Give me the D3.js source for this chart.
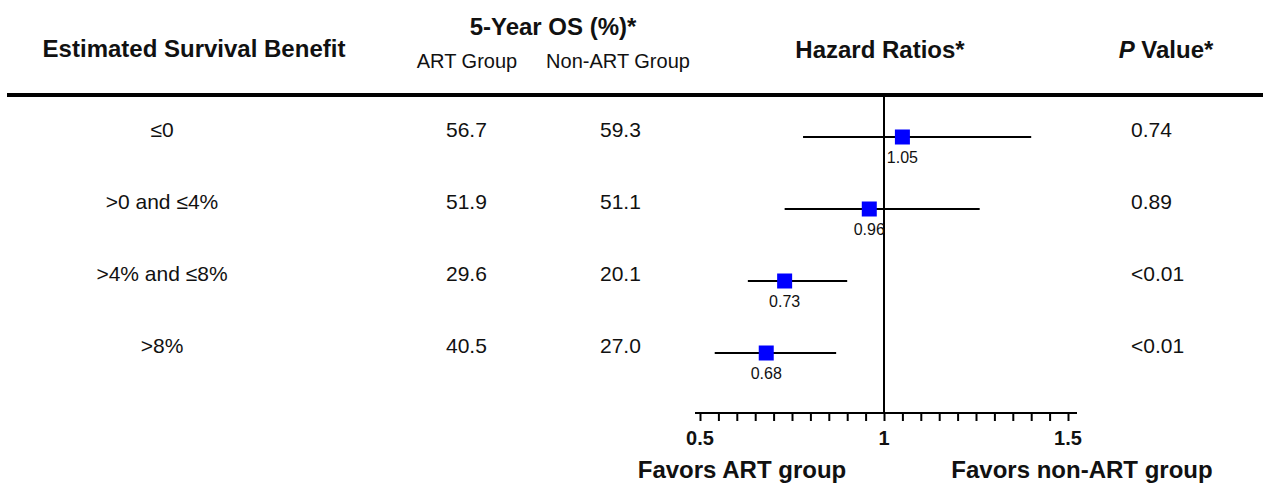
<!DOCTYPE html>
<html>
<head>
<meta charset="utf-8">
<script src="https://cdn.jsdelivr.net/npm/d3@7"></script>
<style>
  html, body { margin: 0; padding: 0; background: #fff; }
  svg { display: block; font-family: "Liberation Sans", Arial, sans-serif; }
</style>
</head>
<body>
<svg id="chart" width="1268" height="485"></svg>
<script>
// ---- data ----
const categories = ["≤0", ">0 and ≤4%", ">4% and ≤8%", ">8%"];
const artOS = ["56.7", "51.9", "29.6", "40.5"];
const nonArtOS = ["59.3", "51.1", "20.1", "27.0"];
const hazardRatios = [1.05, 0.96, 0.73, 0.68];
const hrLabels = ["1.05", "0.96", "0.73", "0.68"];
const ciLower = [0.78, 0.73, 0.63, 0.54];
const ciUpper = [1.40, 1.26, 0.90, 0.87];
const pValues = ["0.74", "0.89", "<0.01", "<0.01"];
const majorTicks = [0.5, 1, 1.5];

// ---- layout ----
const svg = d3.select("#chart");
const x = d3.scaleLinear().domain([0.5, 1.5]).range([700, 1068]);
const y = d3.scaleLinear().domain([0, categories.length - 1]).range([135, 351]);
const axisY = 413;
const rows = d3.range(categories.length);

// headers
const hdr = svg.append("g").attr("fill", "#111");
hdr.append("text").attr("x", 194).attr("y", 57).attr("text-anchor", "middle")
  .attr("font-size", 24).attr("font-weight", "bold").text("Estimated Survival Benefit");
hdr.append("text").attr("x", 553).attr("y", 35).attr("text-anchor", "middle")
  .attr("font-size", 24).attr("font-weight", "bold").text("5-Year OS (%)*");
hdr.append("text").attr("x", 467).attr("y", 68).attr("text-anchor", "middle")
  .attr("font-size", 20).text("ART Group");
hdr.append("text").attr("x", 618).attr("y", 68).attr("text-anchor", "middle")
  .attr("font-size", 20).text("Non-ART Group");
hdr.append("text").attr("x", 880).attr("y", 58).attr("text-anchor", "middle")
  .attr("font-size", 24).attr("font-weight", "bold").text("Hazard Ratios*");
const pv = hdr.append("text").attr("x", 1166).attr("y", 58).attr("text-anchor", "middle")
  .attr("font-size", 24).attr("font-weight", "bold");
pv.append("tspan").attr("font-style", "italic").text("P");
pv.append("tspan").text(" Value*");

// thick rule
svg.append("line").attr("x1", 7).attr("x2", 1263).attr("y1", 95).attr("y2", 95)
  .attr("stroke", "#000").attr("stroke-width", 4);

// reference line at HR = 1
svg.append("line").attr("x1", x(1)).attr("x2", x(1)).attr("y1", 97).attr("y2", axisY)
  .attr("stroke", "#000").attr("stroke-width", 2);

// table text
const tbl = svg.append("g").attr("font-size", 21).attr("fill", "#111");
tbl.selectAll(".cat").data(rows).join("text").attr("class", "cat")
  .attr("x", 162).attr("y", i => y(i) + 2).attr("text-anchor", "middle").text(i => categories[i]);
tbl.selectAll(".art").data(rows).join("text").attr("class", "art")
  .attr("x", 446).attr("y", i => y(i) + 2).text(i => artOS[i]);
tbl.selectAll(".non").data(rows).join("text").attr("class", "non")
  .attr("x", 600).attr("y", i => y(i) + 2).text(i => nonArtOS[i]);
tbl.selectAll(".pv").data(rows).join("text").attr("class", "pv")
  .attr("x", 1131).attr("y", i => y(i) + 2).text(i => pValues[i]);

// CIs
const forest = svg.append("g");
forest.selectAll(".ci").data(rows).join("line").attr("class", "ci")
  .attr("x1", i => x(ciLower[i])).attr("x2", i => x(ciUpper[i]))
  .attr("y1", i => y(i) + 2).attr("y2", i => y(i) + 2)
  .attr("stroke", "#000").attr("stroke-width", 2);
const sq = 15;
forest.selectAll(".pt").data(rows).join("rect").attr("class", "pt")
  .attr("x", i => x(hazardRatios[i]) - sq / 2).attr("y", i => y(i) + 2 - sq / 2)
  .attr("width", sq).attr("height", sq).attr("fill", "#0000ff");
forest.selectAll(".hrl").data(rows).join("text").attr("class", "hrl")
  .attr("x", i => x(hazardRatios[i])).attr("y", i => y(i) + 28)
  .attr("text-anchor", "middle").attr("font-size", 16).attr("fill", "#111")
  .text(i => hrLabels[i]);

// axis
const minorTicks = d3.range(0.5, 1.5001, 0.05);
const axis = d3.axisBottom(x).tickValues(minorTicks).tickSize(8).tickFormat("");
const ag = svg.append("g").attr("transform", `translate(0,${axisY})`).call(axis);
ag.select(".domain").attr("d", `M695,0H1077`).attr("stroke-width", 2);
ag.selectAll(".tick line").attr("stroke-width", 2);
svg.append("g").selectAll("text").data(majorTicks).join("text")
  .attr("x", d => x(d)).attr("y", 445).attr("text-anchor", "middle")
  .attr("font-size", 20).attr("font-weight", "bold").attr("fill", "#111")
  .text(d => d3.format("")(d));

// favors labels
svg.append("text").attr("x", 742).attr("y", 478).attr("text-anchor", "middle")
  .attr("font-size", 24).attr("font-weight", "bold").attr("fill", "#111").text("Favors ART group");
svg.append("text").attr("x", 1082).attr("y", 478).attr("text-anchor", "middle")
  .attr("font-size", 24).attr("font-weight", "bold").attr("fill", "#111").text("Favors non-ART group");
</script>
</body>
</html>
